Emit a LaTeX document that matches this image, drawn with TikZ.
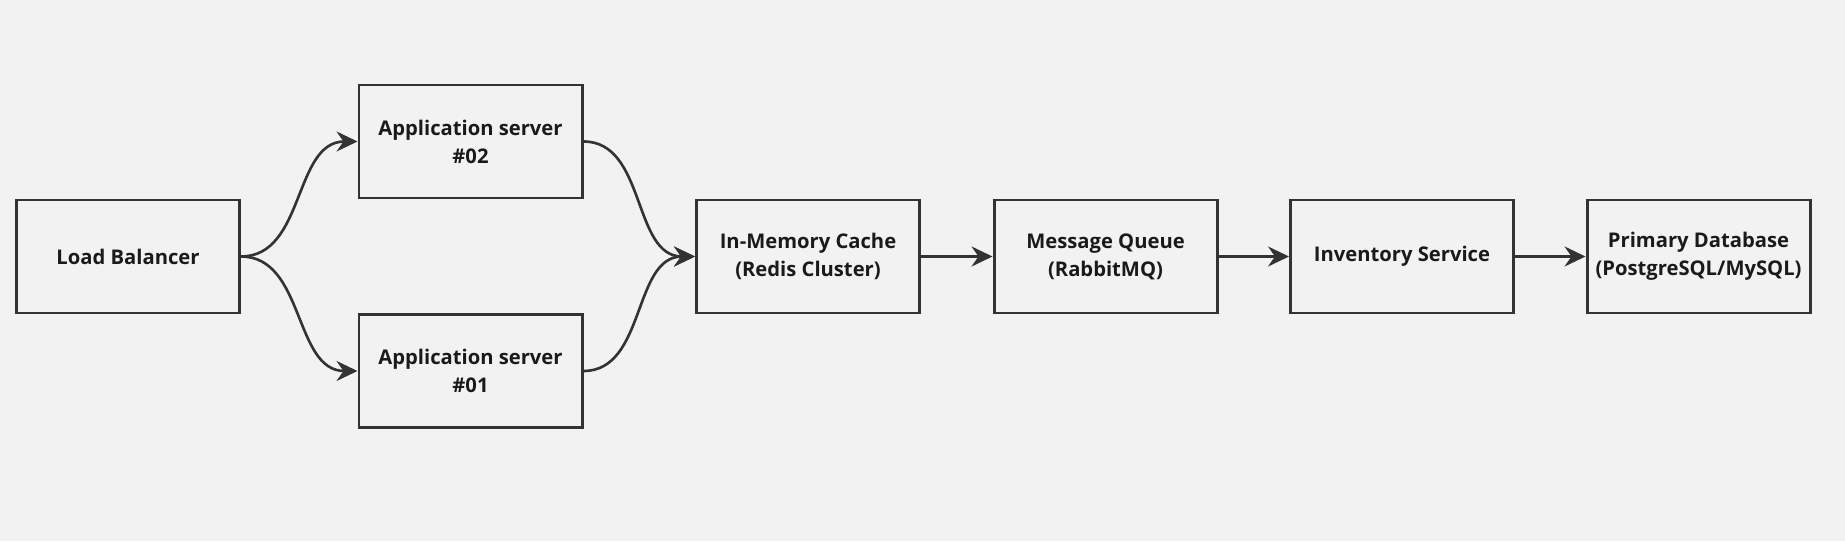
\documentclass[tikz,border=0pt]{standalone}
\usepackage{xcolor}
\usepackage{fontspec}
\setmainfont{Open Sans}
\usepackage{tikz}
\usetikzlibrary{arrows.meta}
\definecolor{bgGray}{HTML}{F2F2F2}
\definecolor{lineGray}{HTML}{333333}
\definecolor{textGray}{HTML}{1A1A1A}
\tikzstyle{compBox} = [draw=lineGray, rectangle, line width=1.7pt,
   minimum width=4.46cm, minimum height=2.26cm, align=center,
   text=textGray, font=\bfseries\fontsize{11.5}{16}\selectfont]
\tikzstyle{flowArrow} = [draw=lineGray, line width=1.5pt,
   -{Stealth[length=4.2mm, width=4mm, inset=1.4mm]}]

\begin{document}
\begin{tikzpicture}
  \fill[bgGray] (0,0) rectangle (36.9,10.82);
  \useasboundingbox (0,0) rectangle (36.9,10.82);

  \node[compBox] at (2.56,5.69)(lb){Load Balancer};
  \node[compBox] at (9.41,7.99)(app2){Application server\\\#02};
  \node[compBox] at (9.41,3.40)(app1){Application server\\\#01};
  \node[compBox] at (16.16,5.69)(cache){In-Memory Cache\\(Redis Cluster)};
  \node[compBox] at (22.11,5.69)(mq){Message Queue\\(RabbitMQ)};
  \node[compBox] at (28.04,5.69)(inv){Inventory Service};
  \node[compBox] at (33.97,5.69)(db){Primary Database\\(PostgreSQL/MySQL)};

  \draw[flowArrow] (lb.east) to[out=0,in=180] (app2.west);
  \draw[flowArrow] (lb.east) to[out=0,in=180] (app1.west);
  \draw[flowArrow] (app2.east) to[out=0,in=180] (cache.west);
  \draw[flowArrow] (app1.east) to[out=0,in=180] (cache.west);
  \draw[flowArrow] (cache) to (mq);
  \draw[flowArrow] (mq) to (inv);
  \draw[flowArrow] (inv) to (db);
\end{tikzpicture}
\end{document}
